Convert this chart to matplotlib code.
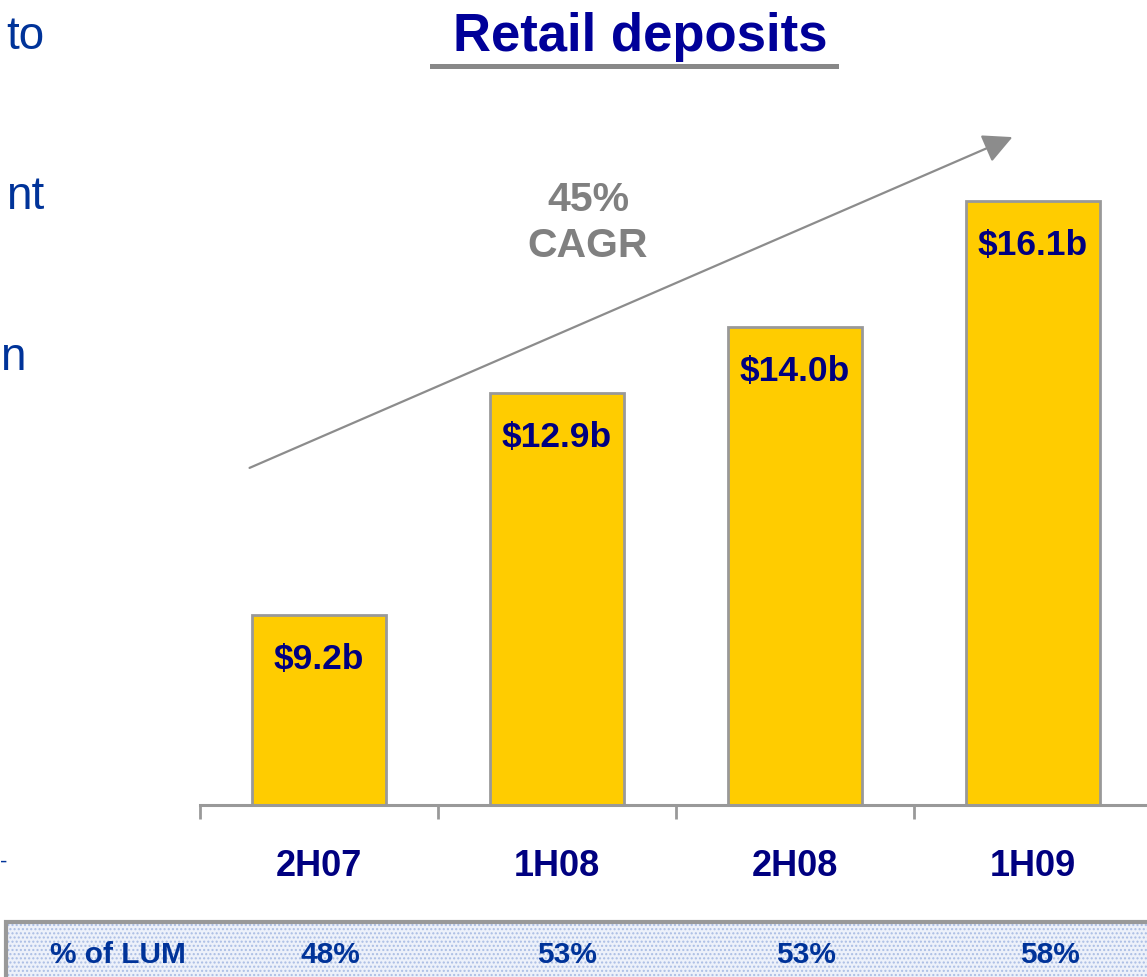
import matplotlib
matplotlib.use("Agg")
import matplotlib.pyplot as plt
from matplotlib.patches import Rectangle, FancyArrowPatch
from matplotlib.lines import Line2D

# ---------------------------
# Data
# ---------------------------
periods = ["2H07", "1H08", "2H08", "1H09"]
deposits = [9.2, 12.9, 14.0, 16.1]  # $b
bar_labels = ["$9.2b", "$12.9b", "$14.0b", "$16.1b"]
lum_share = ["48%", "53%", "53%", "58%"]
cagr_text = ["45%", "CAGR"]
side_words = ["to", "nt", "n", "-"]

W, H = 1147, 978
navy = "#000080"
blue = "#003399"
grey_txt = "#808080"
grey_line = "#999999"

plt.rcParams['font.family'] = ['Liberation Sans', 'DejaVu Sans']

fig = plt.figure(figsize=(W / 100, H / 100), dpi=100)

# axes placed in pixel terms: baseline at y=806, x from 200 to 1152
ax = fig.add_axes([200 / W, (H - 806) / H, 952 / W, 706 / H])
x = list(range(len(periods)))
ax.bar(x, deposits, width=0.56, bottom=0, color="#FFCC00",
       edgecolor=grey_line, linewidth=2)
ax.set_xlim(-0.5, 3.5)
ax.set_ylim(6.03, 17.8)

for i, (v, lab) in enumerate(zip(deposits, bar_labels)):
    ax.text(i, v - 0.72, lab, ha="center", va="center", color=navy,
            fontsize=25.5, fontweight="bold")

for s in ["top", "right", "left"]:
    ax.spines[s].set_visible(False)
ax.spines["bottom"].set_color(grey_line)
ax.spines["bottom"].set_linewidth(2.2)
ax.set_yticks([])
ax.set_xticks([-0.5, 0.5, 1.5, 2.5, 3.5])
ax.set_xticklabels([])
ax.tick_params(axis="x", which="major", length=10, width=2, color=grey_line,
               direction="out")
ax.set_xticks(x, minor=True)
ax.set_xticklabels(periods, minor=True)
ax.tick_params(axis="x", which="minor", length=0, pad=31, labelsize=26,
               labelcolor=navy)
for t in ax.get_xticklabels(minor=True):
    t.set_fontweight("bold")

# title with underline
fig.text(640 / W, 1 - 37 / H, "Retail deposits", ha="center", va="center",
         fontsize=38, fontweight="bold", color="#000099")
fig.add_artist(Line2D([432 / W, 836 / W], [1 - 67 / H, 1 - 67 / H],
                      color="#888888", linewidth=3.6))

# growth arrow
fig.add_artist(FancyArrowPatch(
    (247 / W, 1 - 470 / H), (1015 / W, 1 - 137 / H),
    transform=fig.transFigure, arrowstyle="-|>,head_length=0.9,head_width=0.45",
    mutation_scale=20, color="#8c8c8c", linewidth=1.6))
fig.text(588 / W, 1 - 200 / H, cagr_text[0], ha="center", va="center",
         fontsize=29.5, fontweight="bold", color=grey_txt)
fig.text(588 / W, 1 - 246 / H, cagr_text[1], ha="center", va="center",
         fontsize=29.5, fontweight="bold", color=grey_txt)

# text from the neighbouring slide column (cut off in the original)
for word, yy in zip(side_words[:2], [37, 197]):
    fig.text(44 / W, 1 - yy / H, word, ha="right", va="center",
             fontsize=33, color=blue)
fig.text(0, 1 - 358 / H, side_words[2], ha="left", va="center",
         fontsize=33, color=blue)
fig.text(0, 1 - 862 / H, side_words[3], ha="left", va="center",
         fontsize=16, color=blue)

# bottom table strip: dotted light-blue fill with grey border
strip_h = (H - 923) / H + 0.05
fig.add_artist(Rectangle((6 / W, -0.05), 1.2, strip_h,
                         transform=fig.transFigure, facecolor="#edf1fa",
                         edgecolor="#aabde4", hatch="....", linewidth=0))
fig.add_artist(Rectangle((6 / W, -0.05), 1.2, strip_h,
                         transform=fig.transFigure, facecolor="none",
                         edgecolor="#999999", linewidth=3))
row_x = [118, 330, 567, 806, 1050]
row_txt = ["% of LUM"] + lum_share
for xx, t in zip(row_x, row_txt):
    fig.text(xx / W, 1 - 955 / H, t, ha="center", va="center",
             fontsize=21.5, fontweight="bold", color=blue)

fig.savefig("out.png", dpi=100)
